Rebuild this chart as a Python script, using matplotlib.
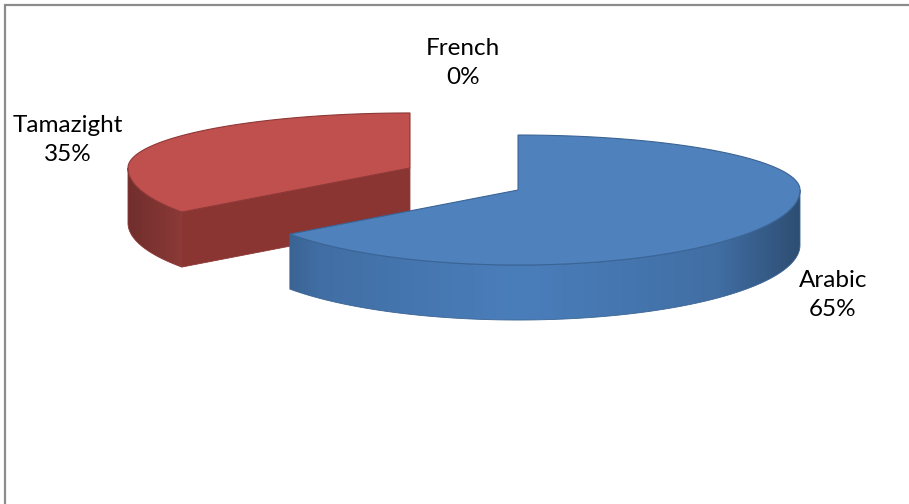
import numpy as np
import matplotlib.pyplot as plt
from matplotlib.patches import Polygon
from matplotlib.colors import LinearSegmentedColormap, to_rgb

# data
languages = ["Arabic", "Tamazight", "French"]
shares = [65, 35, 0]
pct_text = ["65%", "35%", "0%"]

# colours (Excel 2007 style)
top_col = ["#4F81BD", "#C0504D", "#9BBB59"]
side_col = ["#4A7EBB", "#B04946", "#8FAE52"]
cut_col = ["#3C6696", "#8B3533", "#71893F"]
edge_col = ["#3A6494", "#8C3836", "#6F8A3A"]

# label positions (pixels)
label_xy = [(833, 295), (68, 140), (463, 63)]

# pie geometry in pixel units
cx, cy = 464, 179
rx = 282
ry_far, ry_near = 55, 75
depth = 55
explode = 0.215
ry_explode = 113

plt.rcParams['font.family'] = ['Lato', 'DejaVu Sans']

fig = plt.figure(figsize=(9.09, 5.04), dpi=100)
ax = fig.add_axes([0, 0, 1, 1])
ax.set_xlim(0, 909)
ax.set_ylim(504, 0)
ax.axis('off')


def pt(t, ox, oy, dz=0.0):
    t = np.radians(t)
    c = np.cos(t)
    ry = np.where(c > 0, ry_far, ry_near)
    return ox + rx * np.sin(t), oy - ry * c + dz


total = sum(shares)
start = 0.0
slices = []
for i, v in enumerate(shares):
    span = 360.0 * v / total
    if span > 0:
        mid = np.radians(start + span / 2)
        ox = cx + explode * rx * np.sin(mid)
        oy = cy - explode * ry_explode * np.cos(mid)
        slices.append((oy, i, start, start + span, ox))
    start += span

# back slices first
for oy, i, t0, t1, ox in sorted(slices):
    # radial cut faces that face the viewer
    for t, sgn in ((t0, -1), (t1, 1)):
        if sgn * np.sin(np.radians(t)) > 1e-6:
            ex, ey = pt(t, ox, oy)
            quad = [(ox, oy), (ex, ey), (ex, ey + depth), (ox, oy + depth)]
            ax.add_patch(Polygon(quad, closed=True, fc=cut_col[i],
                                 ec=edge_col[i], lw=0.6, zorder=2))

    # outer wall, front half only
    a0, a1 = max(t0, 90), min(t1, 270)
    if a1 > a0:
        tt = np.linspace(a0, a1, 200)
        xs, ys = pt(tt, ox, oy)
        verts = np.vstack([np.column_stack([xs, ys]),
                           np.column_stack([xs[::-1], ys[::-1] + depth])])
        wall = Polygon(verts, closed=True, fc='none', ec=edge_col[i],
                       lw=0.6, zorder=3)
        ax.add_patch(wall)
        base = np.array(to_rgb(side_col[i]))
        f = [0.64, 0.88, 1.0, 0.88, 0.62]
        cmap = LinearSegmentedColormap.from_list(
            'w%d' % i, list(zip([0, 0.15, 0.5, 0.85, 1.0],
                                [tuple(np.clip(base * k, 0, 1)) for k in f])))
        grad = np.linspace(0, 1, 256).reshape(1, -1)
        im = ax.imshow(grad, cmap=cmap, aspect='auto',
                       extent=(ox - rx, ox + rx, ys.max() + depth + 2, ys.min() - 2),
                       zorder=2.5, interpolation='bilinear')
        im.set_clip_path(wall)

    # top face
    tt = np.linspace(t0, t1, 300)
    xs, ys = pt(tt, ox, oy)
    verts = [(ox, oy)] + list(zip(xs, ys))
    ax.add_patch(Polygon(verts, closed=True, fc=top_col[i],
                         ec=edge_col[i], lw=0.8, zorder=4))
    ax.set_xlim(0, 909)
    ax.set_ylim(504, 0)

for name, p, (lx, ly) in zip(languages, pct_text, label_xy):
    ax.text(lx, ly, name + "\n" + p, ha='center', va='center',
            fontsize=17.5, color='black', linespacing=1.42, zorder=6)

# chart frame (top and left edges visible)
ax.plot([5, 5, 909], [504, 5, 5], color='#8C8C8C', lw=1.6, zorder=7,
        solid_joinstyle='miter')

fig.savefig('out.png', dpi=100)
